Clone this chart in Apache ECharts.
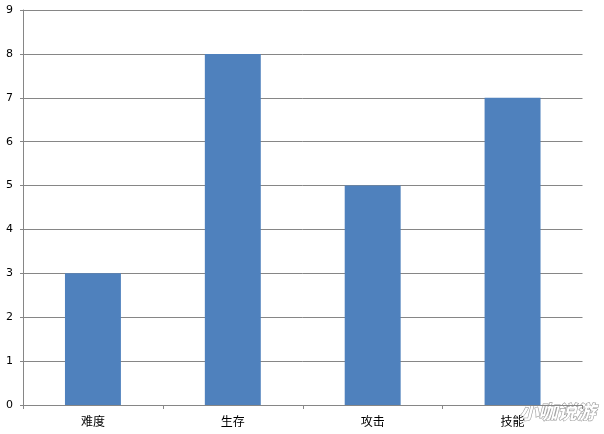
<!DOCTYPE html>
<html><head><meta charset="utf-8">
<script src="https://cdn.jsdelivr.net/npm/echarts@6/dist/echarts.min.js"></script>
<style>html,body{margin:0;padding:0;background:#fff}#c{width:604px;height:434px}</style>
</head><body><div id="c"></div>
<script>
const categories = ['难度', '生存', '攻击', '技能'];
const values = [3, 8, 5, 7];
const yTicks = [0, 1, 2, 3, 4, 5, 6, 7, 8, 9];

const chart = echarts.init(document.getElementById('c'));
chart.setOption({
  animation: false,
  backgroundColor: '#fff',
  grid: { left: 23, right: 21.5, top: 10, bottom: 29, containLabel: false },
  xAxis: {
    type: 'category',
    data: categories,
    axisLine: { lineStyle: { color: '#868686', width: 1 } },
    axisTick: { show: true, length: 4, lineStyle: { color: '#868686' }, alignWithLabel: false },
    axisLabel: { color: '#000', fontSize: 12, margin: 10, fontFamily: 'Noto Sans CJK SC' }
  },
  yAxis: {
    type: 'value',
    min: yTicks[0],
    max: yTicks[yTicks.length - 1],
    interval: 1,
    axisLine: { show: true, lineStyle: { color: '#868686', width: 1 } },
    axisTick: { show: true, length: 3, lineStyle: { color: '#868686' } },
    splitLine: { show: true, lineStyle: { color: '#868686', width: 1 } },
    axisLabel: { color: '#000', fontSize: 11, margin: 10, fontFamily: 'DejaVu Sans' }
  },
  series: [{
    type: 'bar',
    data: values,
    barWidth: '40%',
    itemStyle: { color: '#4F81BD' }
  }],
  graphic: [{
    type: 'text',
    right: 8,
    bottom: 12,
    style: {
      text: '小咖说游',
      fill: '#fff',
      stroke: '#9a9a9a',
      lineWidth: 1.2,
      font: 'italic bold 19px "Noto Sans CJK SC"'
    }
  }]
});
</script></body></html>
